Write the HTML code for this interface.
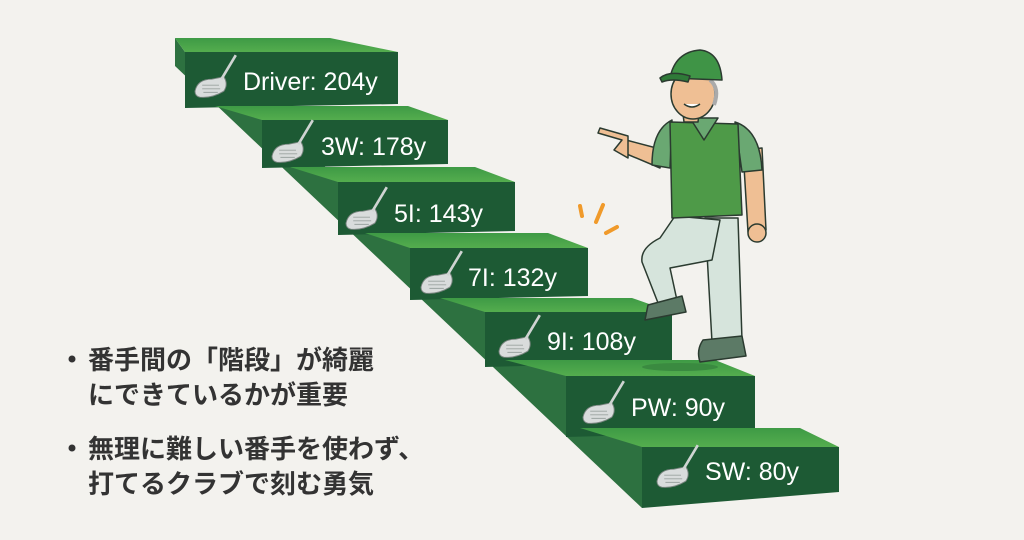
<!DOCTYPE html>
<html><head><meta charset="utf-8"><style>
html,body{margin:0;padding:0;background:#f3f2ee;}
svg{display:block}
</style></head><body>
<svg width="1024" height="540" viewBox="0 0 1024 540" xmlns="http://www.w3.org/2000/svg">
<rect width="1024" height="540" fill="#f3f2ee"/>
<defs>
<linearGradient id="tr" x1="0" y1="0" x2="0" y2="1"><stop offset="0" stop-color="#3e9a45"/><stop offset="1" stop-color="#54ad4e"/></linearGradient>
<g id="club">
 <path d="M0 16 Q2 6 14 6 L24 4 Q28 10 24 16 Q14 22 4 21 Q0 20 0 16Z" fill="#d9dcdc" stroke="#7a8580" stroke-width="0.8"/>
 <path d="M6 11 H20 M6 14 H21 M7 17 H19" stroke="#9aa3a0" stroke-width="0.8"/>
 <path d="M22 6 L34 -14" stroke="#cfd4d2" stroke-width="2.2"/>
</g>
</defs>
<!-- side face -->
<polygon points="175,38 185,52 262,112 338,178 410,243 485,308 566,371 642,440 642,508 175,66" fill="#2d7140"/>
<g font-family="Liberation Sans, sans-serif" font-size="25" fill="#fff">
<polygon points="175,38 330,38 398,52 185,52" fill="url(#tr)"/>
<polygon points="185,52 398,52 398,104 185,108" fill="#1d5a34"/>
<use href="#club" transform="translate(195,72) scale(1.2)"/><text x="243" y="90">Driver: 204y</text>
<polygon points="215,106 408,106 448,120 262,120" fill="url(#tr)"/>
<polygon points="262,120 448,120 448,164 262,168" fill="#1d5a34"/>
<use href="#club" transform="translate(272,137) scale(1.2)"/><text x="321" y="155">3W: 178y</text>
<polygon points="290,167 475,167 515,182 338,182" fill="url(#tr)"/>
<polygon points="338,182 515,182 515,231 338,235" fill="#1d5a34"/>
<use href="#club" transform="translate(346,204) scale(1.2)"/><text x="394" y="222">5I: 143y</text>
<polygon points="365,233 548,233 588,248 410,248" fill="url(#tr)"/>
<polygon points="410,248 588,248 588,296 410,300" fill="#1d5a34"/>
<use href="#club" transform="translate(421,268) scale(1.2)"/><text x="468" y="286">7I: 132y</text>
<polygon points="440,298 632,298 672,312 485,312" fill="url(#tr)"/>
<polygon points="485,312 672,312 672,362 485,367" fill="#1d5a34"/>
<use href="#club" transform="translate(499,332) scale(1.2)"/><text x="547" y="350">9I: 108y</text>
<polygon points="505,360 715,360 755,376 566,376" fill="url(#tr)"/>
<ellipse cx="680" cy="367" rx="38" ry="4" fill="#3a8a40"/>
<polygon points="566,376 755,376 755,432 566,437" fill="#1d5a34"/>
<use href="#club" transform="translate(583,398) scale(1.2)"/><text x="631" y="416">PW: 90y</text>
<polygon points="580,428 800,428 839,447 642,447" fill="url(#tr)"/>
<polygon points="642,447 839,447 839,492 642,508" fill="#1d5a34"/>
<use href="#club" transform="translate(657,462) scale(1.2)"/><text x="705" y="480">SW: 80y</text>
</g>
<g stroke="#f09a2a" stroke-width="4" stroke-linecap="round">
<line x1="580" y1="206" x2="582" y2="216"/><line x1="603" y1="205" x2="596" y2="222"/><line x1="617" y1="227" x2="606" y2="233"/>
</g>
<g stroke="#2b3b30" stroke-width="1.5" stroke-linejoin="round">
 <path d="M705 218 L738 218 L742 340 L712 342 Z" fill="#d6e4dc"/>
 <path d="M703 340 L742 336 L746 356 L700 362 Q696 350 703 340Z" fill="#5c7a66"/>
 <path d="M675 216 L720 220 L712 260 L670 268 L678 305 L660 308 L642 262 Q640 248 660 238 Z" fill="#d6e4dc"/>
 <path d="M648 305 L682 296 L686 312 L645 320 Z" fill="#5c7a66"/>
 <path d="M743 150 L762 148 L766 230 L748 232 Z" fill="#efbf94"/>
 <circle cx="757" cy="233" r="9" fill="#efbf94"/>
 <path d="M735 122 Q760 130 762 170 L742 172 Z" fill="#6aa872"/>
 <path d="M660 168 L622 152 L626 140 L664 150 Z" fill="#efbf94"/>
 <path d="M628 136 L600 128 L598 133 L622 140 L614 150 L628 158 Z" fill="#efbf94"/>
 <path d="M672 120 Q652 130 652 165 L670 168 Z" fill="#6aa872"/>
 <path d="M670 122 L738 124 L742 215 L672 218 Z" fill="#4e9a48"/>
 <path d="M690 118 L704 140 L718 118 Z" fill="#6aa872"/>
 <path d="M682 106 L700 106 L698 122 L684 122Z" fill="#efbf94"/>
 <ellipse cx="693" cy="94" rx="22" ry="25" fill="#efbf94"/>
 <path d="M710 80 Q720 88 714 105" stroke="#aaa" stroke-width="4" fill="none"/>
 <path d="M670 78 Q675 52 700 50 Q720 52 722 80 Z" fill="#3f9446"/>
 <path d="M660 78 Q670 70 690 76 L688 82 Q672 78 662 82 Z" fill="#2f7a38"/>
 <path d="M684 104 Q692 110 700 104" fill="#fff"/>
</g>
<g font-family="Liberation Sans, 'Noto Sans CJK JP', sans-serif" font-size="26" fill="#333" font-weight="bold">
<circle cx="72" cy="359" r="3.5" fill="#333"/>
<text x="88" y="369">番手間の「階段」が綺麗</text>
<text x="88" y="404">にできているかが重要</text>
<circle cx="72" cy="448" r="3.5" fill="#333"/>
<text x="88" y="458">無理に難しい番手を使わず、</text>
<text x="88" y="493">打てるクラブで刻む勇気</text>
</g>
</svg>
</body></html>
